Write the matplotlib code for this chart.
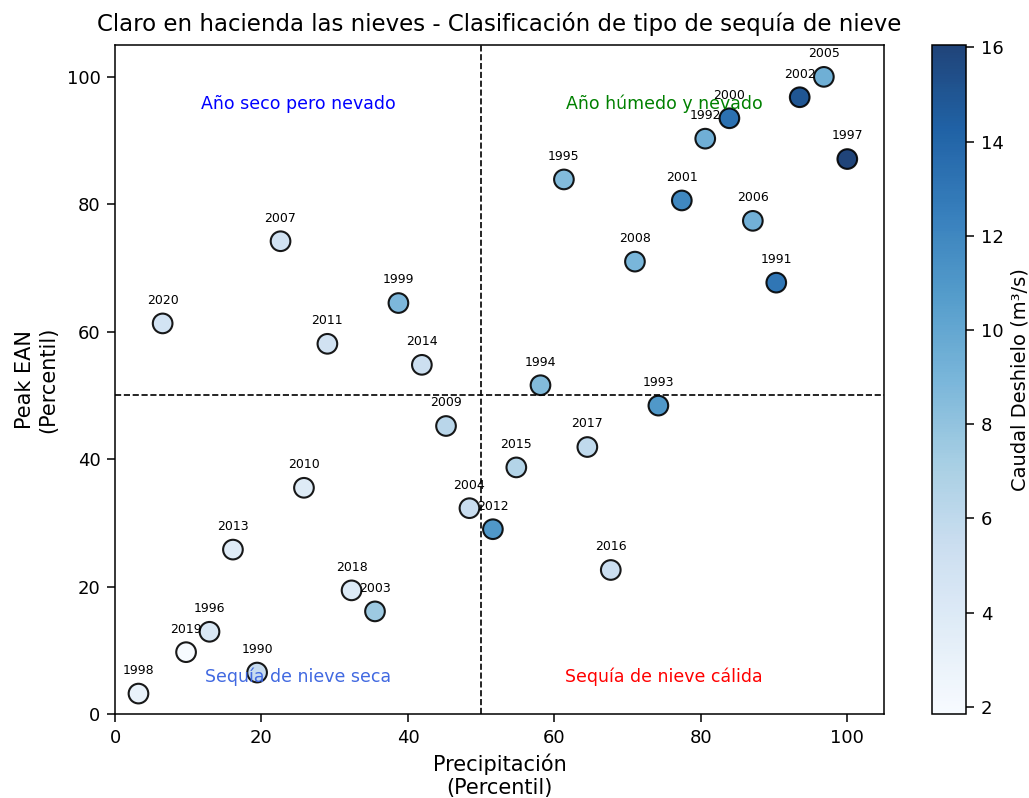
import matplotlib
matplotlib.use("Agg")
import matplotlib.pyplot as plt

years = [1998, 2020, 2019, 1996, 2013, 1990, 2007, 2010, 2011, 2018, 2003,
         1999, 2014, 2009, 2004, 2012, 2015, 1994, 1995, 2017, 2016, 2008,
         1993, 2001, 1992, 2000, 2006, 1991, 2002, 2005, 1997]
precip = [3.2, 6.5, 9.7, 12.9, 16.1, 19.4, 22.6, 25.8, 29.0, 32.3, 35.5,
          38.7, 41.9, 45.2, 48.4, 51.6, 54.8, 58.1, 61.3, 64.5, 67.7, 71.0,
          74.2, 77.4, 80.6, 83.9, 87.1, 90.3, 93.5, 96.8, 100.0]
peak_ean = [3.2, 61.3, 9.7, 12.9, 25.8, 6.5, 74.2, 35.5, 58.1, 19.4, 16.1,
            64.5, 54.8, 45.2, 32.3, 29.0, 38.7, 51.6, 83.9, 41.9, 22.6, 71.0,
            48.4, 80.6, 90.3, 93.5, 77.4, 67.7, 96.8, 100.0, 87.1]
caudal = [3.0, 4.8, 1.85, 4.2, 3.8, 5.6, 5.0, 3.9, 5.0, 4.0, 7.6,
          8.8, 5.3, 6.3, 5.5, 11.0, 6.6, 8.6, 8.6, 5.9, 5.4, 9.0,
          11.0, 12.0, 9.4, 13.3, 9.3, 13.0, 15.0, 9.5, 16.05]

fig = plt.figure(figsize=(10.29, 7.98), dpi=100)
ax = fig.add_axes([0.1118, 0.1053, 0.7472, 0.8383])
cax = fig.add_axes([0.9057, 0.1053, 0.0331, 0.8383])

sc = ax.scatter(precip, peak_ean, c=caudal, cmap='Blues', s=200,
                edgecolors='black', linewidths=1.5, alpha=0.9, zorder=3)
for yr, x, y in zip(years, precip, peak_ean):
    ax.annotate(str(yr), (x, y), xytext=(0, 12), textcoords='offset points',
                ha='center', va='bottom', fontsize=9)

ax.axvline(50, color='black', linestyle='--', linewidth=1.2)
ax.axhline(50, color='black', linestyle='--', linewidth=1.2)

ax.text(25, 95, 'Año seco pero nevado', color='blue', ha='center', fontsize=12.5)
ax.text(75, 95, 'Año húmedo y nevado', color='green', ha='center', fontsize=12.5)
ax.text(25, 5, 'Sequía de nieve seca', color='royalblue', ha='center', fontsize=12.5)
ax.text(75, 5, 'Sequía de nieve cálida', color='red', ha='center', fontsize=12.5)

ax.set_xlim(0, 105)
ax.set_ylim(0, 105)
ax.set_xticks([0, 20, 40, 60, 80, 100])
ax.set_yticks([0, 20, 40, 60, 80, 100])
ax.tick_params(labelsize=13, length=5.5, pad=5, width=1.1)
ax.set_xlabel('Precipitación\n(Percentil)', fontsize=15, labelpad=5)
ax.set_ylabel('Peak EAN\n(Percentil)', fontsize=15, labelpad=6)
ax.set_title('Claro en hacienda las nieves - Clasificación de tipo de sequía de nieve',
             fontsize=16.5, pad=10)
for sp in ax.spines.values():
    sp.set_linewidth(1.1)

cb = fig.colorbar(sc, cax=cax)
cb.set_label('Caudal Deshielo (m³/s)', fontsize=14, labelpad=5)
cb.ax.tick_params(labelsize=13, length=5.5, pad=5, width=1.1)
cb.outline.set_linewidth(1.1)

fig.savefig('out.png', dpi=100)
